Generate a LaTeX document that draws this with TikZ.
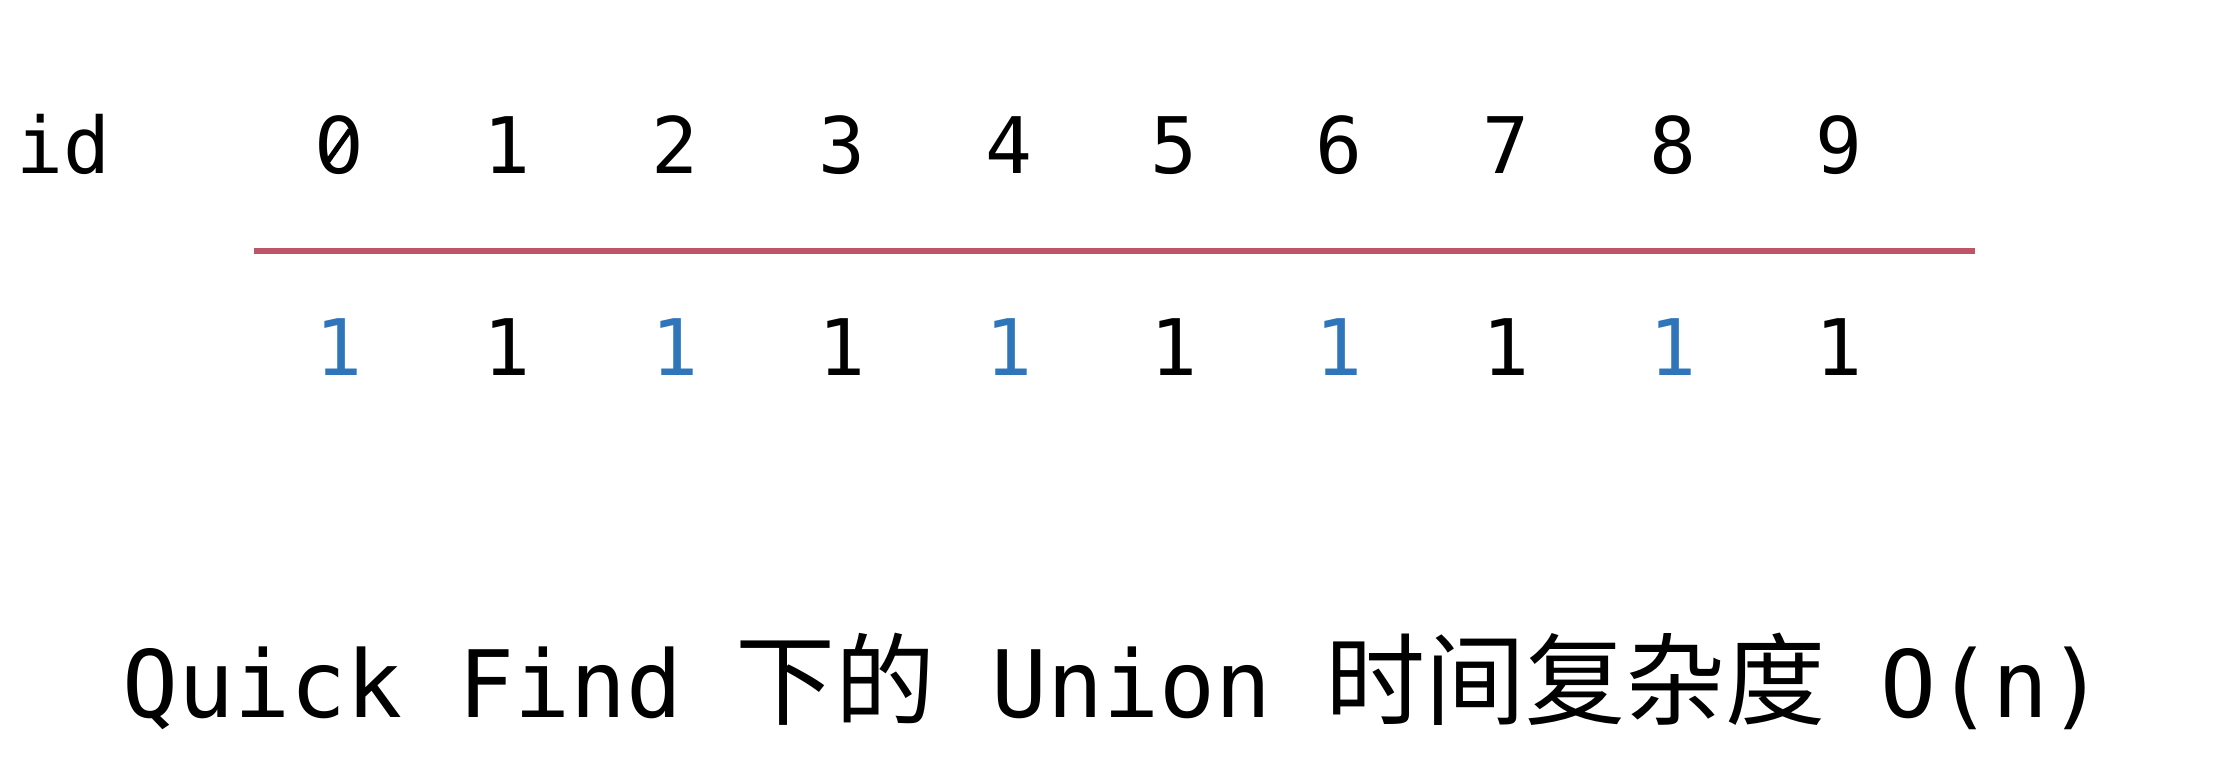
\documentclass[tikz,border=0pt]{standalone}
\usepackage{fontspec}
\usetikzlibrary{calc}
\setmonofont{DejaVu Sans Mono}
\newfontfamily\plainsans{DejaVu Sans}
\newfontfamily\cjk{Noto Sans CJK SC}
\definecolor{idblue}{RGB}{46,117,186}
\definecolor{rulered}{RGB}{190,84,104}
\begin{document}
\begin{tikzpicture}[x=0.5pt,y=-0.5pt,
  digit/.style={font=\ttfamily\fontsize{39}{39}\selectfont, inner sep=0pt, anchor=base},
  bluedigit/.style={digit, text=idblue},
  blackdigit/.style={digit, text=black},
  caption/.style={font=\ttfamily\fontsize{46.5}{46.5}\selectfont, inner sep=0pt, anchor=base west},
  captioncjk/.style={font=\cjk\fontsize{50}{50}\selectfont, inner sep=0pt, anchor=base west},
  zeroslash/.style={draw=black, line width=2.6pt},
  rule/.style={draw=rulered, line width=3pt}]
\useasboundingbox (0,0) rectangle (2234,780);
\node[digit, anchor=base west] (id) at (16,174) {id};
\node[digit, font=\plainsans\fontsize{39}{39}\selectfont] (top0) at (339,174) {0};
\draw[zeroslash] ($(top0.base)+(-11,-13)$) -- ($(top0.base)+(11,-44)$);
\foreach \i/\x in {1/507,2/675,3/842,4/1009,5/1174,6/1339,7/1506,8/1673,9/1839}{
  \node[blackdigit] (top\i) at (\x,174) {\i};
}
\foreach \i/\x in {0/339,2/675,4/1009,6/1339,8/1673}{
  \node[bluedigit] (bot\i) at (\x,376) {1};
}
\foreach \i/\x in {1/507,3/842,5/1174,7/1506,9/1839}{
  \node[blackdigit] (bot\i) at (\x,376) {1};
}
\coordinate (rl) at (254,251);
\coordinate (rr) at (1975,251);
\draw[rule] (rl) -- (rr);
\node[caption] (qf) at (122,717) {Quick Find};
\node[captioncjk] (xia) at (735,717) {下的};
\node[caption] (un) at (991,717) {Union};
\node[captioncjk] (sj) at (1325,717) {时间复杂度};
\node[caption] (on) at (1880,717) {O(n)};
\end{tikzpicture}
\end{document}
